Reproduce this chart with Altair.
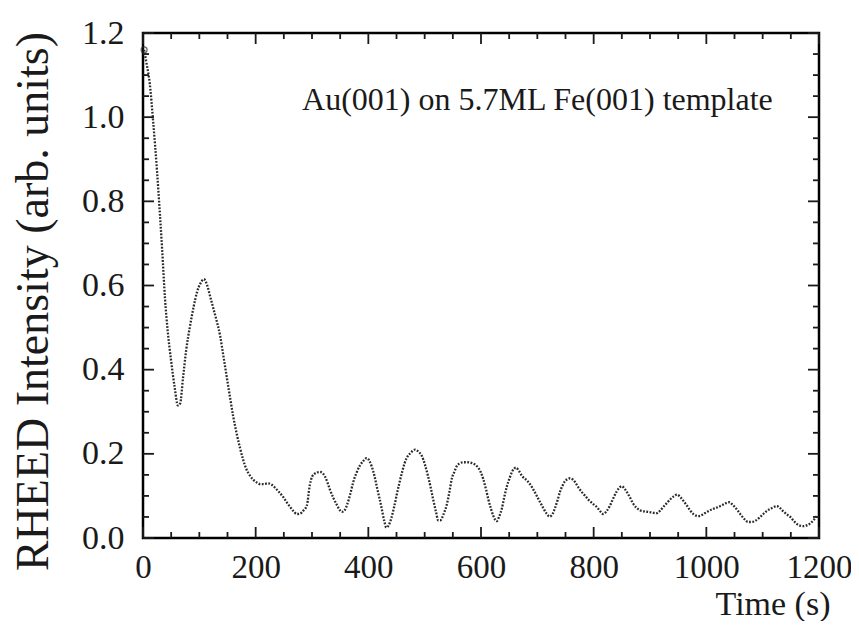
import altair as alt
import pandas as pd

# ---- data ----
time_s = [2, 6, 12, 18, 25, 30, 34, 39, 44, 50, 56, 62, 66, 71, 77, 83, 90, 96, 102, 108,
          114, 119, 124, 130, 137, 143, 149, 155, 160, 166, 172, 178, 184, 190, 196, 202,
          208, 215, 222, 228, 234, 241, 249, 255, 261, 267, 273, 279, 284, 291, 296, 300,
          305, 314, 319, 323, 328, 332, 338, 344, 349, 353, 358, 362, 368, 373, 379, 385,
          391, 397, 402, 406, 411, 415, 420, 424, 428, 432, 436, 441, 446, 450, 455, 460,
          464, 468, 475, 483, 489, 495, 501, 506, 511, 515, 520, 524, 528, 533, 539, 544,
          548, 553, 557, 562, 568, 576, 584, 590, 595, 600, 604, 609, 613, 618, 622, 628,
          632, 637, 641, 646, 651, 655, 662, 668, 673, 679, 684, 689, 693, 699, 705, 711,
          717, 722, 727, 731, 736, 740, 745, 749, 754, 758, 763, 767, 773, 779, 785, 790,
          798, 806, 812, 817, 823, 829, 835, 841, 846, 850, 855, 859, 865, 870, 876, 882,
          890, 897, 905, 912, 918, 923, 930, 936, 942, 948, 954, 960, 966, 971, 977, 986,
          994, 1001, 1012, 1020, 1028, 1035, 1041, 1046, 1051, 1057, 1063, 1069, 1074, 1080,
          1086, 1094, 1101, 1107, 1113, 1119, 1125, 1131, 1136, 1142, 1149, 1155, 1161, 1167,
          1172, 1178, 1184, 1190, 1196]
intensity = [1.16, 1.13, 1.08, 0.99, 0.87, 0.77, 0.685, 0.57, 0.49, 0.42, 0.36, 0.315, 0.32,
             0.38, 0.45, 0.50, 0.55, 0.585, 0.605, 0.615, 0.60, 0.575, 0.55, 0.52, 0.48, 0.43,
             0.38, 0.33, 0.29, 0.25, 0.215, 0.185, 0.162, 0.148, 0.138, 0.132, 0.128, 0.128,
             0.13, 0.127, 0.12, 0.11, 0.097, 0.085, 0.074, 0.064, 0.057, 0.058, 0.064, 0.078,
             0.125, 0.145, 0.153, 0.157, 0.154, 0.146, 0.13, 0.114, 0.095, 0.079, 0.067, 0.062,
             0.066, 0.078, 0.105, 0.132, 0.155, 0.172, 0.183, 0.19, 0.183, 0.17, 0.147, 0.122,
             0.093, 0.068, 0.042, 0.025, 0.03, 0.048, 0.075, 0.10, 0.13, 0.157, 0.176, 0.19,
             0.202, 0.21, 0.205, 0.195, 0.172, 0.147, 0.118, 0.092, 0.063, 0.042, 0.042, 0.055,
             0.078, 0.11, 0.14, 0.158, 0.171, 0.177, 0.18, 0.18, 0.178, 0.174, 0.167, 0.155,
             0.14, 0.115, 0.092, 0.068, 0.052, 0.04, 0.05, 0.07, 0.095, 0.123, 0.143, 0.157,
             0.167, 0.158, 0.147, 0.14, 0.133, 0.124, 0.115, 0.1, 0.085, 0.07, 0.057, 0.051,
             0.057, 0.07, 0.09, 0.109, 0.125, 0.135, 0.14, 0.142, 0.139, 0.133, 0.12, 0.109,
             0.1, 0.092, 0.082, 0.073, 0.063, 0.057, 0.064, 0.077, 0.095, 0.111, 0.12, 0.123,
             0.117, 0.109, 0.095, 0.082, 0.072, 0.066, 0.063, 0.062, 0.06, 0.059, 0.065, 0.073,
             0.083, 0.092, 0.099, 0.103, 0.097, 0.087, 0.076, 0.066, 0.057, 0.052, 0.056, 0.062,
             0.069, 0.073, 0.078, 0.083, 0.085, 0.08, 0.073, 0.063, 0.052, 0.043, 0.038, 0.038,
             0.04, 0.048, 0.057, 0.064, 0.069, 0.073, 0.076, 0.071, 0.064, 0.057, 0.05, 0.041,
             0.033, 0.029, 0.028, 0.03, 0.034, 0.042, 0.052]

x_major = [0, 200, 400, 600, 800, 1000, 1200]
x_minor = [50, 100, 150, 250, 300, 350, 450, 500, 550, 650, 700, 750, 850, 900, 950,
           1050, 1100, 1150]
y_major = [0.0, 0.2, 0.4, 0.6, 0.8, 1.0, 1.2]
y_minor = [0.05, 0.1, 0.15, 0.25, 0.3, 0.35, 0.45, 0.5, 0.55, 0.65, 0.7, 0.75, 0.85,
           0.9, 0.95, 1.05, 1.1, 1.15]

note_text = ["Au(001) on 5.7ML Fe(001) template"]
note_t = [1118]
note_I = [1.017]

W, H = 676, 505
FONT = "Liberation Serif, Times New Roman, Times, serif"
INK = "#1a1a1a"

x_scale = alt.Scale(domain=[0, 1200], nice=False, zero=False)
y_scale = alt.Scale(domain=[0, 1.2], nice=False, zero=False)

x_axis = alt.Axis(
    values=x_major, format="d", title="Time (s)", ticks=False, domain=False, grid=False,
    labelFont=FONT, labelFontSize=33, labelColor=INK, labelPadding=13,
    labelFlush=False, labelOverlap=False,
    titleFont=FONT, titleFontSize=34, titleFontWeight="normal", titleColor=INK,
    titleX=687, titleY=76, titleAlign="right", titleBaseline="alphabetic")
y_axis = alt.Axis(
    values=y_major, format=".1f", title="RHEED Intensity (arb. units)", ticks=False,
    domain=False, grid=False, labelFont=FONT, labelFontSize=34, labelColor=INK,
    labelPadding=19, labelFlush=False, labelOverlap=False,
    titleFont=FONT, titleFontSize=46, titleFontWeight="normal", titleColor=INK,
    titleX=-96, titleY=268, titleAngle=270, titleAlign="center",
    titleBaseline="alphabetic")

df = pd.DataFrame({"t": time_s, "I": intensity})

line = alt.Chart(df).mark_line(
    color="#2a2a2a", strokeWidth=2.3, strokeDash=[1.8, 1.5], interpolate="monotone"
).encode(
    x=alt.X("t:Q", scale=x_scale, axis=x_axis),
    y=alt.Y("I:Q", scale=y_scale, axis=y_axis),
)

start = alt.Chart(df.head(1)).mark_point(
    shape="circle", filled=False, size=35, color="#2a2a2a", strokeWidth=1.3
).encode(x=alt.X("t:Q", scale=x_scale, axis=x_axis),
         y=alt.Y("I:Q", scale=y_scale, axis=y_axis))

def xticks(vals, length, top):
    d = pd.DataFrame({"t": vals})
    if top:
        yv, y2v = alt.value(0), alt.value(length)
    else:
        yv, y2v = alt.value(H), alt.value(H - length)
    return alt.Chart(d).mark_rule(color=INK, strokeWidth=1.8).encode(
        x=alt.X("t:Q", scale=x_scale, axis=x_axis), y=yv, y2=y2v)

def yticks(vals, length, right):
    d = pd.DataFrame({"I": vals})
    if right:
        xv, x2v = alt.value(W), alt.value(W - length)
    else:
        xv, x2v = alt.value(0), alt.value(length)
    return alt.Chart(d).mark_rule(color=INK, strokeWidth=1.8).encode(
        y=alt.Y("I:Q", scale=y_scale, axis=y_axis), x=xv, x2=x2v)

note = alt.Chart(pd.DataFrame({"txt": note_text, "t": note_t, "I": note_I})).mark_text(
    font=FONT, fontSize=32, align="right", baseline="alphabetic", color=INK
).encode(x=alt.X("t:Q", scale=x_scale, axis=x_axis),
         y=alt.Y("I:Q", scale=y_scale, axis=y_axis), text="txt:N")

chart = alt.layer(
    xticks(x_major, 11, False), xticks(x_minor, 6, False),
    xticks(x_major, 11, True), xticks(x_minor, 6, True),
    yticks(y_major, 11, False), yticks(y_minor, 6, False),
    yticks(y_major, 11, True), yticks(y_minor, 6, True),
    line, start, note,
).properties(
    width=W, height=H, autosize=alt.AutoSizeParams(type="none"),
    padding={"left": 135, "top": 25, "right": 32, "bottom": 83},
    background="white",
).configure_view(stroke="black", strokeWidth=2.5)

chart.save("out.html", embed_options={"renderer": "svg", "actions": False})
